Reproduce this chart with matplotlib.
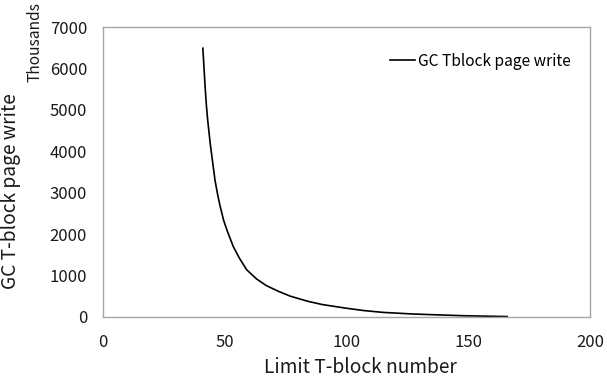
import matplotlib
matplotlib.use("Agg")
import matplotlib.pyplot as plt

plt.rcParams['font.family'] = ['Noto Sans CJK TC', 'DejaVu Sans']
plt.rcParams['font.weight'] = 'medium'

# ---------------- data ----------------
limit_tblock = [41, 42, 42.5, 43, 44, 45, 46, 47, 48, 49.5, 51, 53.5, 56, 59, 63, 67,
                72, 77, 84, 90, 100, 107, 115, 127, 140, 148, 158, 166]
gc_page_write = [6490, 5500, 5080, 4750, 4200, 3750, 3300, 2980, 2700, 2340, 2080, 1700,
                 1420, 1140, 920, 760, 620, 500, 380, 300, 210, 155, 110, 72, 45, 30,
                 18, 10]

x_ticks = [0, 50, 100, 150, 200]
y_ticks = [0, 1000, 2000, 3000, 4000, 5000, 6000, 7000]

# ---------------- plot ----------------
fig = plt.figure(figsize=(6.07, 3.87), dpi=100)
ax = fig.add_axes([0.1697, 0.181, 0.8023, 0.749])

ax.plot(limit_tblock, gc_page_write, color='black', lw=1.2, label='GC Tblock page write')

ax.set_xlim(0, 200)
ax.set_ylim(0, 7000)
ax.set_xticks(x_ticks)
ax.set_yticks(y_ticks)
ax.tick_params(length=0, labelsize=12, colors='#1a1a1a')
ax.tick_params(axis='x', pad=12)
ax.tick_params(axis='y', pad=11.5)
for s in ax.spines.values():
    s.set_color('#a6a6a6')
    s.set_linewidth(1.0)

ax.legend(loc='upper right', frameon=False, fontsize=11.2, handlelength=1.6,
          handletextpad=0.2, bbox_to_anchor=(0.99, 0.96))

fig.text(0.018, 0.505, 'GC T-block page write', rotation=90, ha='center', va='center',
         fontsize=13.8, color='#1a1a1a')
fig.text(0.593, 0.022, 'Limit T-block number', ha='center', va='bottom',
         fontsize=13.8, color='#1a1a1a')
# the unit label sits right at the top edge, as in the source chart
fig.text(0.057, 1 - 82 / 387, 'Thousands', rotation=90, ha='center', va='bottom',
         fontsize=11.2, color='#1a1a1a')

fig.savefig('out.png', dpi=100)
